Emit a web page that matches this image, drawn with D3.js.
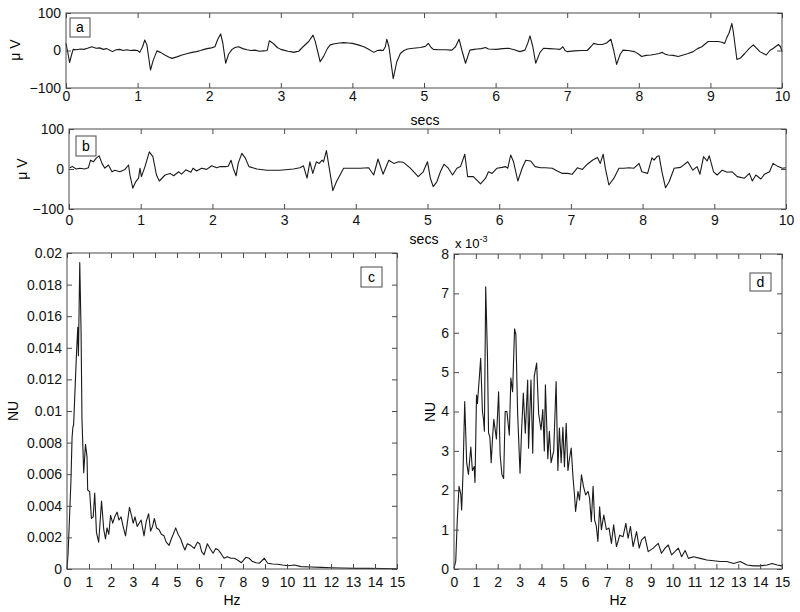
<!DOCTYPE html>
<html>
<head>
<meta charset="utf-8">
<script src="https://cdn.jsdelivr.net/npm/d3@7"></script>
<style>
  body { margin: 0; background: #fff; }
  svg { display: block; font-family: "Liberation Sans", Arial, sans-serif; }
</style>
</head>
<body>
<div id="chart"></div>
<script>
// ---- data ----
// panel a: EEG trace (secs, µV)
const aTime = [0,0.03,0.05,0.08,0.1,0.15,0.2,0.25,0.3,0.36,0.42,0.47,0.52,0.57,0.62,0.65,0.7,0.75,0.8,0.85,0.9,0.95,1.0,1.03,1.07,1.1,1.13,1.18,1.22,1.27,1.32,1.38,1.44,1.48,1.55,1.62,1.7,1.76,1.82,1.88,1.93,1.97,2.03,2.08,2.12,2.16,2.19,2.23,2.27,2.32,2.36,2.41,2.47,2.53,2.58,2.64,2.7,2.76,2.81,2.84,2.9,2.95,3.0,3.04,3.1,3.14,3.18,3.22,3.25,3.3,3.39,3.45,3.48,3.55,3.6,3.65,3.69,3.75,3.82,3.88,3.94,4.0,4.08,4.16,4.22,4.3,4.35,4.39,4.43,4.46,4.48,4.51,4.57,4.62,4.67,4.72,4.77,4.85,4.95,5.02,5.06,5.1,5.13,5.2,5.3,5.39,5.44,5.49,5.53,5.58,5.64,5.7,5.74,5.8,5.86,5.9,6.01,6.1,6.18,6.26,6.34,6.41,6.45,6.48,6.52,6.56,6.62,6.67,6.75,6.84,6.9,6.94,6.97,7.0,7.1,7.2,7.28,7.33,7.37,7.43,7.49,7.55,7.61,7.65,7.69,7.74,7.78,7.85,7.94,8.0,8.04,8.1,8.17,8.23,8.28,8.33,8.37,8.41,8.48,8.55,8.62,8.69,8.76,8.82,8.88,8.93,8.97,9.05,9.11,9.16,9.2,9.23,9.26,9.3,9.32,9.37,9.42,9.48,9.54,9.6,9.65,9.69,9.74,9.78,9.83,9.88,9.95,9.98,10];
const aVolt = [19,-10,-32,-10,3,2,4,3,6,10,6,7,3,5,0,-3,2,3,0,2,0,1,0,-5,10,28,15,-52,-25,-1,-5,-12,-18,-21,-17,-12,-8,-5,-3,0,3,5,7,10,30,44,20,-34,-10,3,8,10,5,2,0,1,-2,-1,0,26,18,8,3,1,-2,-3,-5,-3,-2,8,24,41,25,-30,-15,5,15,18,20,21,20,19,15,10,4,-5,0,1,0,10,30,10,-75,-30,-8,0,4,6,8,11,19,8,3,2,2,1,10,30,0,-34,1,3,4,5,8,4,3,5,6,2,-3,1,20,39,10,-34,-5,6,5,4,3,10,0,-3,-1,0,0,10,19,16,16,20,30,0,-37,-10,1,0,-3,-10,-16,-13,-12,-10,-8,-5,-10,-12,-13,-16,-12,-8,-3,5,10,18,24,24,24,22,19,35,46,72,50,-24,-20,-8,5,15,5,-3,-8,-12,0,6,16,10,-3];

// panel b: EEG trace (secs, µV)
const bTime = [0.01,0.05,0.1,0.15,0.22,0.27,0.3,0.34,0.38,0.42,0.46,0.5,0.55,0.6,0.64,0.71,0.78,0.83,0.85,0.89,0.93,0.97,0.99,1.01,1.06,1.12,1.17,1.22,1.26,1.34,1.41,1.46,1.53,1.57,1.63,1.7,1.73,1.78,1.85,1.92,1.99,2.06,2.11,2.18,2.22,2.26,2.29,2.33,2.36,2.41,2.46,2.51,2.62,2.76,2.94,3.13,3.22,3.27,3.32,3.36,3.4,3.45,3.49,3.53,3.55,3.59,3.63,3.68,3.73,3.83,3.92,4.06,4.18,4.25,4.31,4.38,4.46,4.53,4.6,4.66,4.76,4.87,4.94,5.0,5.04,5.08,5.13,5.18,5.23,5.29,5.35,5.41,5.46,5.52,5.56,5.64,5.74,5.81,5.85,5.9,5.97,6.04,6.09,6.12,6.16,6.2,6.26,6.32,6.37,6.44,6.5,6.58,6.64,6.74,6.81,6.88,6.95,7.02,7.09,7.16,7.23,7.3,7.37,7.41,7.45,7.48,7.53,7.6,7.67,7.74,7.81,7.88,7.95,7.99,8.07,8.13,8.16,8.2,8.23,8.27,8.32,8.37,8.44,8.53,8.63,8.7,8.76,8.8,8.85,8.9,8.93,8.99,9.04,9.11,9.18,9.25,9.32,9.42,9.49,9.53,9.58,9.65,9.7,9.77,9.82,9.89,9.95,10];
const bVolt = [3,6,0,2,0,3,22,18,27,33,14,2,10,-7,-3,-7,-1,10,-15,-48,-32,-23,2,-19,6,43,31,-15,-30,-15,-11,-17,-7,-13,-2,-8,2,-5,2,-1,8,3,6,6,7,22,2,-17,14,39,27,6,0,-3,-3,0,3,8,-23,18,-11,18,14,22,18,46,2,-54,-32,2,2,2,3,-15,25,-13,22,14,18,17,2,-19,-7,18,-23,-44,-32,-7,12,2,-15,2,6,37,-19,-19,-37,-23,-7,-11,2,4,6,2,35,18,-30,2,22,20,6,3,3,2,-5,-11,-11,-13,3,-1,12,22,29,14,37,2,-40,-23,2,2,3,2,14,-7,-11,28,22,31,33,-7,-47,-32,2,4,18,-3,6,-13,31,20,33,-7,-15,-3,-8,-7,-19,-23,-11,-30,-15,-25,-13,-7,14,6,2,3];

// panel c: spectrum (Hz, NU)
const cFreq = [0,0.05,0.18,0.23,0.27,0.3,0.43,0.49,0.52,0.58,0.64,0.68,0.76,0.84,0.91,0.94,1.03,1.11,1.19,1.26,1.34,1.44,1.57,1.67,1.75,1.82,1.9,1.98,2.08,2.17,2.28,2.36,2.46,2.55,2.66,2.74,2.84,2.93,3.01,3.09,3.19,3.28,3.37,3.5,3.6,3.71,3.8,3.89,3.97,4.07,4.18,4.29,4.41,4.51,4.64,4.74,4.83,4.94,5.05,5.17,5.27,5.36,5.47,5.62,5.78,5.93,6.03,6.12,6.23,6.38,6.5,6.64,6.76,6.88,6.99,7.14,7.29,7.45,7.6,7.75,7.93,8.13,8.28,8.43,8.59,8.74,8.97,9.12,9.35,9.57,9.8,10.03,10.33,10.64,11.1,11.55,12.0,12.5,13.1,13.7,15];
const cNU = [0,0.001,0.0056,0.0083,0.009,0.0091,0.0136,0.0153,0.0135,0.0194,0.015,0.0095,0.0061,0.0079,0.0071,0.005,0.0049,0.0032,0.0033,0.0048,0.0023,0.0017,0.0043,0.0025,0.0019,0.0026,0.0022,0.0034,0.0029,0.0033,0.0036,0.0031,0.0033,0.0027,0.0021,0.0029,0.0039,0.0034,0.0029,0.0033,0.0027,0.0029,0.0031,0.0021,0.003,0.0035,0.0024,0.0027,0.0032,0.0026,0.0025,0.0022,0.0021,0.0017,0.0015,0.0019,0.0022,0.0026,0.0022,0.0019,0.0015,0.0012,0.0016,0.0015,0.0013,0.0017,0.0016,0.0011,0.0009,0.0016,0.0013,0.001,0.0013,0.0012,0.001,0.00068,0.00078,0.00068,0.00068,0.00057,0.0004,0.00074,0.00068,0.00047,0.0004,0.00036,0.00068,0.00036,0.00032,0.0003,0.00025,0.00021,0.00025,0.00015,0.00013,0.0001,0.00008,0.00006,0.00004,0.00004,0.00002];

// panel d: spectrum (Hz, NU in units of 10^-3)
const dFreq = [0,0.08,0.15,0.23,0.31,0.35,0.41,0.49,0.58,0.66,0.77,0.84,0.92,0.96,1.03,1.07,1.15,1.22,1.3,1.35,1.39,1.45,1.53,1.58,1.64,1.7,1.76,1.82,1.94,2.04,2.11,2.19,2.27,2.34,2.42,2.53,2.6,2.68,2.77,2.83,2.91,3.02,3.09,3.17,3.26,3.37,3.41,3.52,3.6,3.67,3.78,3.87,3.98,4.06,4.13,4.18,4.29,4.36,4.44,4.56,4.67,4.75,4.82,4.9,4.98,5.05,5.13,5.21,5.28,5.36,5.44,5.51,5.56,5.67,5.74,5.83,5.92,6.02,6.13,6.2,6.28,6.36,6.43,6.51,6.58,6.66,6.74,6.85,6.97,7.09,7.2,7.3,7.43,7.58,7.73,7.86,7.96,8.07,8.19,8.35,8.47,8.58,8.73,8.88,9.11,9.34,9.49,9.65,9.8,9.95,10.1,10.26,10.41,10.57,10.72,10.95,11.26,11.56,11.87,12.17,12.48,12.79,13.09,13.4,13.7,14.0,14.32,14.55,14.78,15];
const dNU = [0.02,0.2,1.25,2.1,1.9,1.5,2.4,4.25,2.7,2.4,3.1,2.5,2.6,2.2,4.42,4.2,4.8,5.35,4.0,3.8,3.5,7.17,5.4,3.45,3.36,2.7,3.3,3.8,3.3,4.5,2.9,2.4,2.3,4.0,4.0,3.4,4.85,4.5,6.1,5.95,3.95,2.43,3.5,4.47,3.45,4.8,3.07,4.8,2.94,4.9,5.23,3.95,3.53,4.05,3.0,4.68,2.8,3.5,2.7,3.0,4.76,2.5,3.58,2.7,3.6,2.6,3.7,2.5,2.8,3.07,2.35,1.88,1.46,1.97,1.75,2.39,2.1,1.88,1.97,1.8,1.2,2.1,1.25,1.08,0.7,1.58,1.0,1.37,1.0,1.04,0.65,1.12,0.57,0.86,0.82,1.16,0.78,1.08,0.57,0.95,0.53,0.74,0.82,0.44,0.53,0.65,0.4,0.53,0.61,0.36,0.44,0.53,0.31,0.47,0.27,0.31,0.27,0.23,0.21,0.19,0.19,0.14,0.19,0.1,0.08,0.08,0.1,0.14,0.1,0.08];

const secTicks = d3.range(0, 11);
const voltTicks = [-100, 0, 100];
const hzTicks = d3.range(0, 16);
const cTicks = [0, 0.002, 0.004, 0.006, 0.008, 0.01, 0.012, 0.014, 0.016, 0.018, 0.02];
const dTicks = d3.range(0, 9);

const width = 800, height = 612;
const svg = d3.select("#chart").append("svg")
  .attr("width", width)
  .attr("height", height);

const axisColor = "#4a4a4a";
const lineColor = "#1a1a1a";
const fontSize = 14;

// draws one MATLAB-like panel: boxed axes, ticks pointing inward on all four sides
function drawPanel(opt) {
  const x = d3.scaleLinear().domain(opt.xDomain).range([opt.left, opt.right]);
  const y = d3.scaleLinear().domain(opt.yDomain).range([opt.bottom, opt.top]);

  const g = svg.append("g");

  const line = d3.line()
    .x((d, i) => x(opt.xs[i]))
    .y(d => y(d));

  g.append("path")
    .datum(opt.ys)
    .attr("fill", "none")
    .attr("stroke", lineColor)
    .attr("stroke-width", 1.1)
    .attr("stroke-linejoin", "round")
    .attr("d", line);

  const styleAxis = sel => {
    sel.select(".domain").remove();
    sel.selectAll(".tick line").attr("stroke", axisColor);
    sel.selectAll("text")
      .attr("fill", "#111")
      .style("font-size", fontSize + "px");
  };

  g.append("g")
    .attr("transform", `translate(0,${opt.bottom})`)
    .call(d3.axisBottom(x).tickValues(opt.xTicks).tickSize(-5).tickPadding(opt.xPad).tickFormat(d3.format("d")))
    .call(styleAxis);
  g.append("g")
    .attr("transform", `translate(0,${opt.top})`)
    .call(d3.axisTop(x).tickValues(opt.xTicks).tickSize(-5).tickFormat(""))
    .call(styleAxis);
  g.append("g")
    .attr("transform", `translate(${opt.left},0)`)
    .call(d3.axisLeft(y).tickValues(opt.yTicks).tickSize(-5).tickPadding(5).tickFormat(opt.yFormat))
    .call(styleAxis);
  g.append("g")
    .attr("transform", `translate(${opt.right},0)`)
    .call(d3.axisRight(y).tickValues(opt.yTicks).tickSize(-5).tickFormat(""))
    .call(styleAxis);

  g.append("rect")
    .attr("x", opt.left)
    .attr("y", opt.top)
    .attr("width", opt.right - opt.left)
    .attr("height", opt.bottom - opt.top)
    .attr("fill", "none")
    .attr("stroke", axisColor)
    .attr("stroke-width", 1);

  // panel letter in a small box
  const b = opt.tag;
  g.append("rect")
    .attr("x", b.x).attr("y", b.y)
    .attr("width", b.w).attr("height", b.h)
    .attr("fill", "#fff")
    .attr("stroke", axisColor);
  g.append("text")
    .attr("x", b.x + b.w / 2)
    .attr("y", b.y + b.h / 2)
    .attr("dy", "0.35em")
    .attr("text-anchor", "middle")
    .style("font-size", fontSize + "px")
    .text(opt.letter);

  // x label
  g.append("text")
    .attr("x", opt.xLabelPos[0])
    .attr("y", opt.xLabelPos[1])
    .attr("text-anchor", "middle")
    .style("font-size", fontSize + "px")
    .text(opt.xLabel);

  // y label
  g.append("text")
    .attr("transform", `translate(${opt.yLabelPos[0]},${opt.yLabelPos[1]}) rotate(-90)`)
    .attr("text-anchor", "middle")
    .attr("dy", "0.35em")
    .style("font-size", fontSize + "px")
    .text(opt.yLabel);

  return g;
}

drawPanel({
  xs: aTime, ys: aVolt, xDomain: [0, 10], yDomain: [-100, 100],
  left: 66, right: 782, top: 13, bottom: 88,
  xTicks: secTicks, yTicks: voltTicks, xPad: 3, yFormat: d3.format("d"),
  letter: "a", tag: {x: 70, y: 18, w: 20, h: 19},
  xLabel: "secs", xLabelPos: [425, 125],
  yLabel: "\u03bc V", yLabelPos: [15, 50]
});

drawPanel({
  xs: bTime, ys: bVolt, xDomain: [0, 10], yDomain: [-100, 100],
  left: 69, right: 786, top: 129, bottom: 209,
  xTicks: secTicks, yTicks: voltTicks, xPad: 6, yFormat: d3.format("d"),
  letter: "b", tag: {x: 76, y: 136, w: 20, h: 20},
  xLabel: "secs", xLabelPos: [424, 244],
  yLabel: "\u03bc V", yLabelPos: [22, 169]
});

drawPanel({
  xs: cFreq, ys: cNU, xDomain: [0, 15], yDomain: [0, 0.02],
  left: 67, right: 397, top: 253, bottom: 569,
  xTicks: hzTicks, yTicks: cTicks, xPad: 8, yFormat: d => d === 0 ? "0" : d3.format("~g")(d),
  letter: "c", tag: {x: 361, y: 267, w: 21, h: 20},
  xLabel: "Hz", xLabelPos: [232, 605],
  yLabel: "NU", yLabelPos: [13, 411]
});

const dPanel = drawPanel({
  xs: dFreq, ys: dNU, xDomain: [0, 15], yDomain: [0, 8],
  left: 454, right: 782, top: 254, bottom: 569,
  xTicks: hzTicks, yTicks: dTicks, xPad: 8, yFormat: d3.format("d"),
  letter: "d", tag: {x: 750, y: 273, w: 21, h: 18},
  xLabel: "Hz", xLabelPos: [618, 605],
  yLabel: "NU", yLabelPos: [430, 412]
});

// exponent label for panel d
const expo = dPanel.append("text")
  .attr("x", 455)
  .attr("y", 248)
  .style("font-size", "13px");
expo.append("tspan").text("x 10");
expo.append("tspan").attr("dy", -6).style("font-size", "9px").text("-3");
</script>
</body>
</html>
